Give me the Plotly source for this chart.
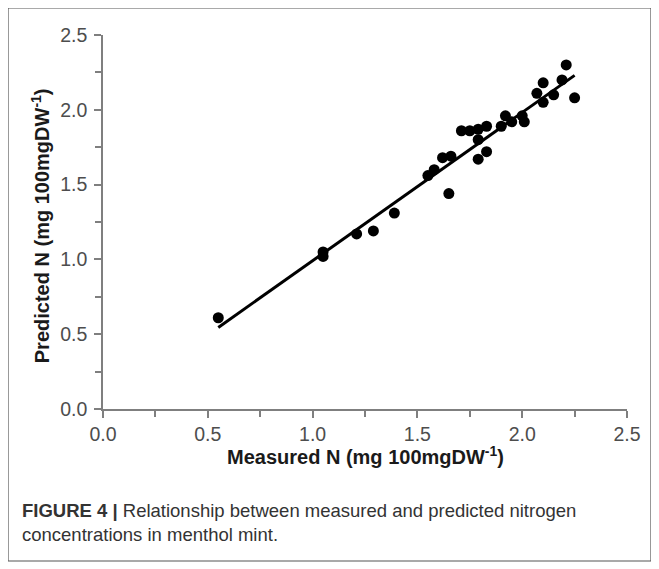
import plotly.graph_objects as go

# Measured vs predicted N (mg 100mgDW-1)
measured = [0.55, 1.05, 1.05, 1.21, 1.29, 1.39, 1.55, 1.58, 1.62, 1.65, 1.66,
            1.71, 1.75, 1.79, 1.79, 1.79, 1.83, 1.83, 1.90, 1.92, 1.95, 2.00,
            2.01, 2.07, 2.10, 2.10, 2.15, 2.19, 2.21, 2.25]
predicted = [0.61, 1.05, 1.02, 1.17, 1.19, 1.31, 1.56, 1.60, 1.68, 1.44, 1.69,
             1.86, 1.86, 1.67, 1.80, 1.87, 1.72, 1.89, 1.89, 1.96, 1.92, 1.96,
             1.92, 2.11, 2.05, 2.18, 2.10, 2.20, 2.30, 2.08]

trend_x = [0.55, 2.25]
trend_y = [0.545, 2.23]

x_ticks = [0.0, 0.5, 1.0, 1.5, 2.0, 2.5]
y_ticks = [0.0, 0.5, 1.0, 1.5, 2.0, 2.5]

x_title = "<b>Measured N (mg 100mgDW<sup>-1</sup>)</b>"
y_title = "<b>Predicted N (mg 100mgDW<sup>-1</sup>)</b>"

FONT = "Liberation Sans, Arial"

fig = go.Figure()
fig.add_trace(go.Scatter(x=trend_x, y=trend_y, mode="lines",
                         line=dict(color="black", width=3), showlegend=False))
fig.add_trace(go.Scatter(x=measured, y=predicted, mode="markers",
                         marker=dict(color="black", size=11), showlegend=False))

axis_common = dict(
    range=[0, 2.5], showgrid=False, zeroline=False, showline=True,
    linecolor="#7f7f7f", linewidth=1.5, ticks="outside", ticklen=7,
    tickwidth=1.5, tickcolor="#7f7f7f", tickformat=".1f", automargin=False,
    tickfont=dict(family=FONT, size=19.5, color="#4d4d4d"),
    minor=dict(dtick=0.25, ticks="outside", ticklen=6, tickwidth=1.5,
               tickcolor="#7f7f7f"),
)

fig.update_xaxes(**axis_common, tickvals=x_ticks)
fig.update_yaxes(**axis_common, tickvals=y_ticks, ticklabelstandoff=3)

fig.add_annotation(x=0.5, y=-0.124, xref="paper", yref="paper", xanchor="center",
                   yanchor="middle", text=x_title, showarrow=False,
                   font=dict(family=FONT, size=20, color="#1a1a1a"))
fig.add_annotation(x=-0.12, y=0.489, xref="paper", yref="paper", xanchor="center",
                   yanchor="middle", text=y_title, showarrow=False, textangle=-90,
                   font=dict(family=FONT, size=20, color="#1a1a1a"))

fig.add_annotation(x=0.24, y=2.51, xref="x", yref="y", xanchor="left", yanchor="top",
                   text="<b>R² = 0.95<br>RMSE = 0.08</b>", showarrow=False, align="left",
                   font=dict(family=FONT, size=19.5, color="#333333"))

fig.add_annotation(x=-0.158, y=-0.238, xref="paper", yref="paper", xanchor="left",
                   yanchor="top", align="left", showarrow=False,
                   text="<b>FIGURE 4 |</b> Relationship between measured and predicted nitrogen<br>concentrations in menthol mint.",
                   font=dict(family=FONT, size=18.5, color="#333333"))

fig.add_shape(type="rect", xref="paper", yref="paper",
              x0=-0.1813, x1=1.0458, y0=-0.4064, y1=1.0722,
              line=dict(color="#555555", width=1.2), fillcolor="rgba(0,0,0,0)")

fig.update_layout(
    width=659, height=569,
    margin=dict(l=95, r=40, t=27, b=168),
    plot_bgcolor="white", paper_bgcolor="white",
    font=dict(family=FONT),
)

fig.write_html("out.html")
